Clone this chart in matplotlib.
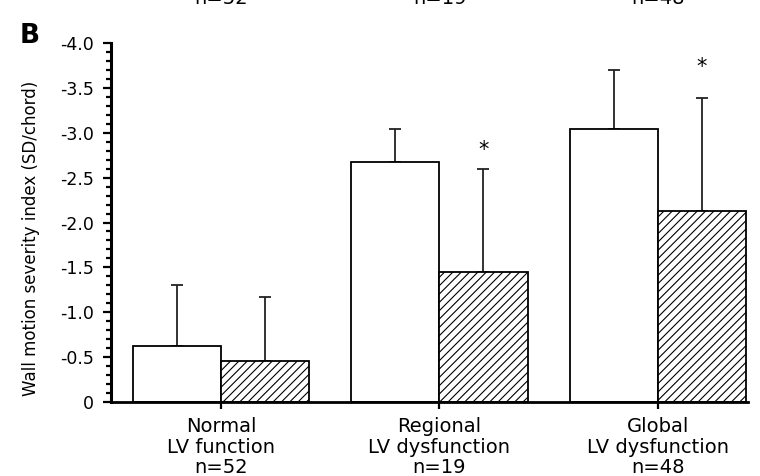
import matplotlib
matplotlib.use('Agg')
import matplotlib.pyplot as plt
from matplotlib.ticker import MultipleLocator, FuncFormatter
import numpy as np

# wall motion severity index (SD/chord, negative = worse)
groups = ['Normal\nLV function\nn=52', 'Regional\nLV dysfunction\nn=19', 'Global\nLV dysfunction\nn=48']
before_mean = [-0.62, -2.67, -3.04]
before_sd_top = [-1.30, -3.04, -3.70]
after_mean = [-0.46, -1.45, -2.13]
after_sd_top = [-1.17, -2.60, -3.39]
star_y = [None, -2.81, -3.73]
top_panel_n = ['n=52', 'n=19', 'n=48']

plt.rcParams['font.family'] = ['DejaVu Sans']
plt.rcParams['hatch.linewidth'] = 0.8

fig = plt.figure(figsize=(7.6, 4.76), dpi=100)
ax = fig.add_axes([111/760, 74/476, 637/760, 359/476])

x = np.arange(len(groups))
w = 0.403
before_err = [np.array(before_mean) - np.array(before_sd_top), np.zeros(3)]
after_err = [np.array(after_mean) - np.array(after_sd_top), np.zeros(3)]

ax.bar(x, before_mean, width=-w, align='edge', color='white', edgecolor='black', linewidth=1.3, zorder=2)
ax.bar(x, after_mean, width=w, align='edge', color='white', edgecolor='black', linewidth=1.3,
       hatch='////', zorder=2)
ax.errorbar(x - w/2, before_mean, yerr=before_err, fmt='none', ecolor='#222222', elinewidth=1.3,
            capsize=4, capthick=1.3, zorder=1)
ax.errorbar(x + w/2, after_mean, yerr=after_err, fmt='none', ecolor='#222222', elinewidth=1.3,
            capsize=4, capthick=1.3, zorder=1)

for i, sy in enumerate(star_y):
    if sy is not None:
        ax.text(x[i] + w/2, sy, '*', ha='center', va='center', fontsize=15)

ax.set_ylim(0, -4.0)
ax.set_xlim(-0.503, 2.412)
ax.yaxis.set_major_locator(MultipleLocator(0.5))
ax.yaxis.set_minor_locator(MultipleLocator(0.1))
ax.yaxis.set_major_formatter(FuncFormatter(lambda v, p: '0' if abs(v) < 1e-9 else '%.1f' % v))
ax.set_xticks(x)
ax.set_xticklabels(groups, fontsize=14, linespacing=1.1)

for s in ['top', 'right']:
    ax.spines[s].set_visible(False)
ax.spines['left'].set_linewidth(2.2)
ax.spines['bottom'].set_linewidth(2.0)
ax.tick_params(axis='y', which='major', length=6, width=1.6, labelsize=12.5, pad=6)
ax.tick_params(axis='y', which='minor', length=3.5, width=1.6)
ax.tick_params(axis='x', which='major', length=5, width=1.6, pad=6)

ax.set_ylabel('Wall motion severity index (SD/chord)', fontsize=12)
ax.yaxis.set_label_coords(-0.112, 0.455)

fig.text(20/760, 1 - 43/476, 'B', fontsize=19, fontweight='bold', va='baseline')
# bottoms of the n= labels from the panel above, cut at the top edge as in the source
for i, s in enumerate(top_panel_n):
    fig.text((221 + 218.5*i)/760, 1 - 4/476, s, fontsize=14, ha='center', va='baseline')

fig.savefig('out.png', dpi=100)
